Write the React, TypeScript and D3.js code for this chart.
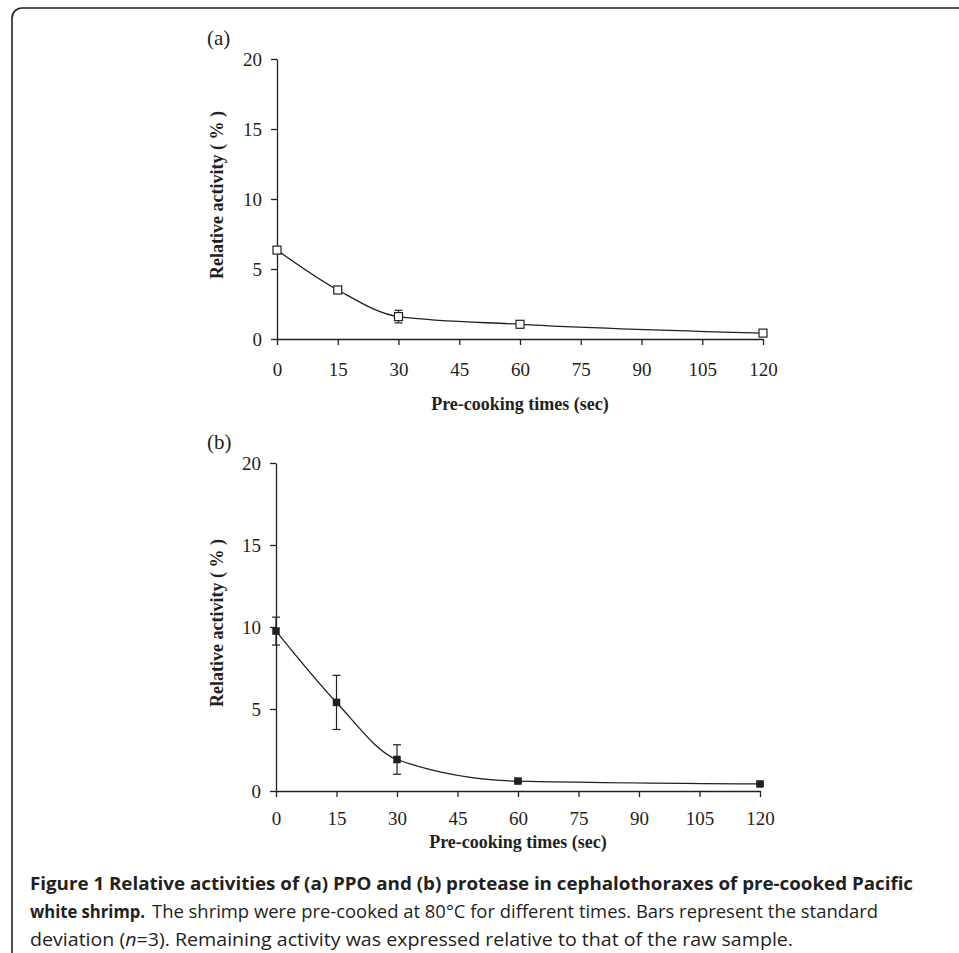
import React, { useEffect, useRef } from "react";
import * as d3 from "d3";

const times = [0, 15, 30, 60, 120];
const ppoMean = [6.35, 3.5, 1.6, 1.05, 0.42];
const ppoSD = [0.15, 0.2, 0.45, 0.12, 0.12];
const proteaseMean = [9.75, 5.4, 1.92, 0.6, 0.43];
const proteaseSD = [0.85, 1.65, 0.9, 0.08, 0.05];
const xTicks = [0, 15, 30, 45, 60, 75, 90, 105, 120];
const yTicks = [0, 5, 10, 15, 20];

const INK = "#231f20";
const SERIF = "'Liberation Serif', 'Times New Roman', serif";
const SANS = "'Open Sans', 'Noto Sans', sans-serif";

type PanelProps = {
  label: string;
  x0: number;
  x1: number;
  yTop: number;
  yBottom: number;
  means: number[];
  sds: number[];
  filled: boolean;
  markerSize: number;
  tickPad: number;
  titleOffset: number;
};

function Panel({ label, x0, x1, yTop, yBottom, means, sds, filled, markerSize, tickPad, titleOffset }: PanelProps) {
  const xRef = useRef<SVGGElement>(null);
  const yRef = useRef<SVGGElement>(null);
  const x = d3.scaleLinear().domain([0, 120]).range([x0, x1]);
  const y = d3.scaleLinear().domain([0, 20]).range([yBottom, yTop]);

  useEffect(() => {
    const xa = d3.axisBottom(x).tickValues(xTicks).tickSizeInner(6).tickSizeOuter(0).tickPadding(tickPad);
    const ya = d3.axisLeft(y).tickValues(yTicks).tickSizeInner(6).tickSizeOuter(0).tickPadding(9);
    const gx = d3.select(xRef.current!);
    gx.call(xa as any);
    const gy = d3.select(yRef.current!);
    gy.call(ya as any);
    [gx, gy].forEach((g) => {
      g.attr("font-family", SERIF).attr("font-size", 19);
      g.selectAll("path").attr("stroke", INK).attr("stroke-width", 1.3);
      g.selectAll("line").attr("stroke", INK).attr("stroke-width", 1.3);
      g.selectAll("text").attr("fill", INK);
    });
  });

  const line = d3
    .line<number>()
    .x((_, i) => x(times[i]))
    .y((d) => y(d))
    .curve(d3.curveMonotoneX);

  const cx = (x0 + x1) / 2;
  const cy = (yTop + yBottom) / 2;
  const cap = 4;

  return (
    <g>
      <text x={207} y={yTop - 14} fontFamily={SERIF} fontSize={21} fill={INK}>
        {label}
      </text>
      <g ref={xRef} transform={`translate(0,${yBottom})`} />
      <g ref={yRef} transform={`translate(${x0},0)`} />
      <text
        transform={`translate(223,${cy - 4}) rotate(-90)`}
        textAnchor="middle"
        fontFamily={SERIF}
        fontWeight="bold"
        fontSize={18}
        fill={INK}
      >
        Relative activity ( % )
      </text>
      <text
        x={cx}
        y={yBottom + titleOffset}
        textAnchor="middle"
        fontFamily={SERIF}
        fontWeight="bold"
        fontSize={18}
        fill={INK}
      >
        Pre-cooking times (sec)
      </text>
      <path d={line(means) || ""} fill="none" stroke={INK} strokeWidth={1.3} />
      {means.map((m, i) => {
        const px = x(times[i]);
        const top = y(m + sds[i]);
        const bot = y(m - sds[i]);
        return (
          <g key={i} stroke={INK} strokeWidth={1.2}>
            <line x1={px} x2={px} y1={top} y2={bot} />
            <line x1={px - cap} x2={px + cap} y1={top} y2={top} />
            <line x1={px - cap} x2={px + cap} y1={bot} y2={bot} />
            <rect
              x={px - markerSize / 2}
              y={y(m) - markerSize / 2}
              width={markerSize}
              height={markerSize}
              fill={filled ? INK : "#ffffff"}
              stroke={INK}
              strokeWidth={filled ? 0.5 : 1.2}
            />
          </g>
        );
      })}
    </g>
  );
}

export default function App() {
  return (
    <svg
      width={959}
      height={953}
      viewBox="0 0 959 953"
      style={{ position: "absolute", left: 0, top: 0, background: "#ffffff" }}
    >
      <rect x={0} y={0} width={959} height={953} fill="#ffffff" />
      <path d="M12,953 L12,18 A10,10 0 0 1 22,8 L959,8" fill="none" stroke={INK} strokeWidth={1.6} />
      <Panel
        label="(a)"
        x0={277}
        x1={763}
        yTop={59}
        yBottom={339}
        means={ppoMean}
        sds={ppoSD}
        filled={false}
        markerSize={8}
        tickPad={18}
        titleOffset={71}
      />
      <Panel
        label="(b)"
        x0={276}
        x1={760}
        yTop={463}
        yBottom={791}
        means={proteaseMean}
        sds={proteaseSD}
        filled={true}
        markerSize={7}
        tickPad={15}
        titleOffset={57}
      />
      <text x={30} y={890} fontFamily={SANS} fontWeight="bold" fontSize={18} fill={INK} textLength={883} lengthAdjust="spacingAndGlyphs">
        Figure 1 Relative activities of (a) PPO and (b) protease in cephalothoraxes of pre-cooked Pacific
      </text>
      <text x={30} y={918} fontFamily={SANS} fontWeight="bold" fontSize={18} fill={INK} textLength={115} lengthAdjust="spacingAndGlyphs">
        white shrimp.
      </text>
      <text x={152} y={918} fontFamily={SANS} fontSize={18} fill={INK} textLength={726} lengthAdjust="spacingAndGlyphs">
        The shrimp were pre-cooked at 80°C for different times. Bars represent the standard
      </text>
      <text x={30} y={946} fontFamily={SANS} fontSize={18} fill={INK} textLength={763} lengthAdjust="spacingAndGlyphs">
        deviation (<tspan fontStyle="italic">n</tspan>=3). Remaining activity was expressed relative to that of the raw sample.
      </text>
    </svg>
  );
}
